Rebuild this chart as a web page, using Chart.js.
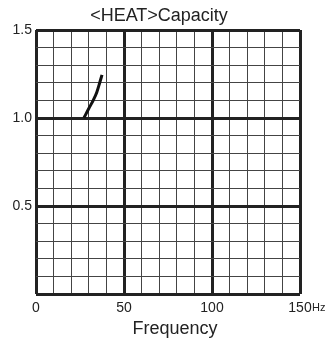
<!DOCTYPE html>
<html>
<head>
<meta charset="utf-8">
<script src="https://cdn.jsdelivr.net/npm/chart.js@4.4.1/dist/chart.umd.min.js"></script>
<style>
  html, body { margin: 0; padding: 0; background: #fff; }
</style>
</head>
<body>
<canvas id="canvas" width="330" height="343"></canvas>
<script>
// values
const frequency = [27.2, 30, 32.5, 34.5, 36.2, 37.5];
const capacity = [1.0, 1.054, 1.1, 1.145, 1.2, 1.245];
const xTickLabels = [0, 50, 100, 150];
const yTickLabels = [0.5, 1.0, 1.5];

const fontFamily = '"Liberation Sans", Arial, sans-serif';
const inkColor = "#222";
const thinGrid = "#444";

// unit after the last x label, and the axis title which sits a bit right of centre
const extraText = {
    id: 'extraText',
    afterDraw(chart) {
        const ctx = chart.ctx;
        const area = chart.chartArea;
        const x150 = chart.scales.x.getPixelForValue(150);
        ctx.save();
        ctx.fillStyle = inkColor;
        ctx.textAlign = 'left';
        ctx.textBaseline = 'alphabetic';
        ctx.font = '11px ' + fontFamily;
        ctx.fillText('Hz', x150 + 12, area.bottom + 16.5);
        ctx.textAlign = 'center';
        ctx.font = '18px ' + fontFamily;
        ctx.fillText('Frequency', (area.left + area.right) / 2 + 7, area.bottom + 40);
        ctx.restore();
    }
};

const ctx = document.getElementById("canvas").getContext("2d");

new Chart(ctx, {
    type: 'scatter',
    data: {
        datasets: [{
            data: frequency.map((f, i) => ({ x: f, y: capacity[i] })),
            showLine: true,
            borderColor: '#111',
            borderWidth: 3,
            pointRadius: 0,
            tension: 0.3,
            cubicInterpolationMode: 'monotone'
        }]
    },
    options: {
        responsive: false,
        animation: false,
        layout: { padding: { left: 0, right: 12, top: 0, bottom: 0 } },
        plugins: {
            legend: { display: false },
            tooltip: { enabled: false },
            title: {
                display: true,
                text: '<HEAT>Capacity',
                color: inkColor,
                font: { family: fontFamily, size: 18, weight: 'normal', lineHeight: 1.2 },
                padding: { top: 5, bottom: 3.4 }
            }
        },
        scales: {
            x: {
                type: 'linear',
                min: 0,
                max: 150,
                afterFit: scale => { scale.height = 49; },
                border: { display: false },
                grid: {
                    drawTicks: false,
                    color: ctx => ctx.tick.value % 50 === 0 ? inkColor : thinGrid,
                    lineWidth: ctx => ctx.tick.value % 50 === 0 ? 3 : 1
                },
                ticks: {
                    stepSize: 10,
                    autoSkip: false,
                    maxRotation: 0,
                    padding: 6,
                    color: inkColor,
                    font: { family: fontFamily, size: 14 },
                    callback: v => xTickLabels.includes(v) ? String(v) : ''
                }
            },
            y: {
                type: 'linear',
                min: 0,
                max: 1.5,
                afterFit: scale => { scale.width = 36; },
                border: { display: false },
                grid: {
                    drawTicks: false,
                    color: ctx => Math.round(ctx.tick.value * 10) % 5 === 0 ? inkColor : thinGrid,
                    lineWidth: ctx => Math.round(ctx.tick.value * 10) % 5 === 0 ? 3 : 1
                },
                ticks: {
                    stepSize: 0.1,
                    autoSkip: false,
                    padding: 4,
                    color: inkColor,
                    font: { family: fontFamily, size: 14 },
                    callback: v => yTickLabels.some(t => Math.abs(t - v) < 1e-6) ? v.toFixed(1) : ''
                }
            },
            // empty right axis, only keeps the gap on the right of the grid
            y2: {
                position: 'right',
                afterFit: scale => { scale.width = 18; },
                border: { display: false },
                grid: { display: false },
                ticks: { display: false }
            }
        }
    },
    plugins: [extraText]
});
</script>
</body>
</html>
